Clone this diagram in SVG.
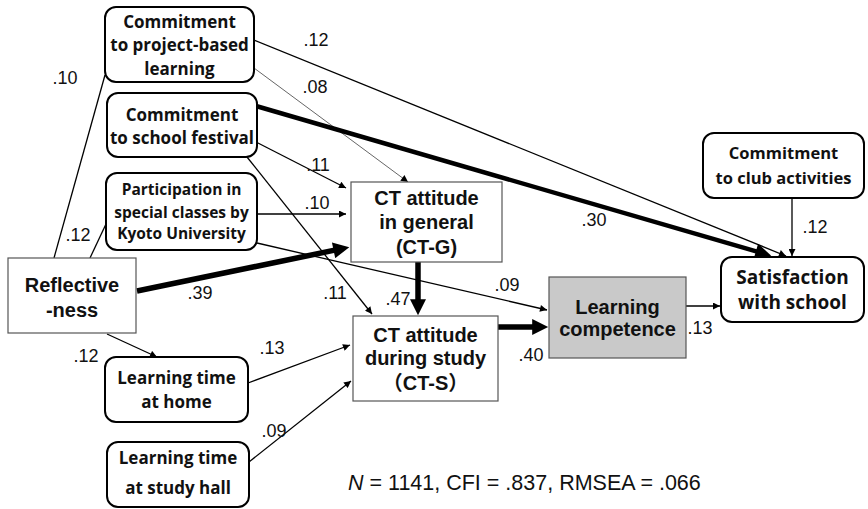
<svg xmlns="http://www.w3.org/2000/svg" width="868" height="509" viewBox="0 0 868 509">
<style>
.rbox{fill:#fff;stroke:#000;stroke-width:2}
.sbox{fill:#fff;stroke:#555;stroke-width:1.2}
.gbox{fill:#c9c9c9;stroke:#555;stroke-width:1.2}
.gt{font-family:"Open Sans","Noto Sans",sans-serif;font-weight:700;fill:#111;text-anchor:middle}
.at{font-family:"Liberation Sans","Noto Sans CJK JP",sans-serif;font-weight:700;fill:#111;text-anchor:middle}
.lbl{font-family:"Liberation Sans",Arial,sans-serif;font-size:18px;fill:#111;text-anchor:middle}
.thin{fill:none;stroke:#000;stroke-width:1.3}
.hair{fill:none;stroke:#555;stroke-width:0.9}
.thick{fill:none;stroke:#000;stroke-width:4.5}
.thick5{fill:none;stroke:#000;stroke-width:5.5}
</style>
<defs>
<marker id="sm" viewBox="0 0 10 10" refX="10" refY="5" markerWidth="9" markerHeight="7" markerUnits="userSpaceOnUse" orient="auto"><path d="M0,0 L10,5 L0,10 z" fill="#000"/></marker>
<marker id="lg" viewBox="0 0 10 10" refX="3" refY="5" markerWidth="17" markerHeight="16" markerUnits="userSpaceOnUse" orient="auto"><path d="M0,0 L10,5 L0,10 z" fill="#000"/></marker>
</defs>

<g id="connectors">
<line class="thin" x1="54" y1="258" x2="105" y2="75"/>
<line class="thin" x1="90" y1="258" x2="106" y2="224"/>
<line class="thin" x1="107" y1="334" x2="157" y2="357" marker-end="url(#sm)"/>
<line class="thick5" x1="137" y1="291" x2="338.3" y2="249.4" marker-end="url(#lg)"/>
<line class="thin" x1="254" y1="40" x2="786" y2="256" marker-end="url(#sm)"/>
<line class="hair" x1="254" y1="68" x2="408" y2="182" marker-end="url(#sm)"/>
<line class="thick" x1="256" y1="106" x2="760.5" y2="252.7" marker-end="url(#lg)"/>
<line class="thin" x1="256" y1="142" x2="346" y2="188" marker-end="url(#sm)"/>
<line class="thin" x1="247" y1="157" x2="372" y2="314" marker-end="url(#sm)"/>
<line class="thin" x1="257" y1="214" x2="346" y2="214" marker-end="url(#sm)"/>
<line class="thin" x1="257" y1="243" x2="547" y2="310" marker-end="url(#sm)"/>
<line class="thick5" x1="418" y1="262" x2="418" y2="304" marker-end="url(#lg)"/>
<line class="thick5" x1="498" y1="327" x2="537" y2="327" marker-end="url(#lg)"/>
<line class="thin" x1="686" y1="306" x2="720" y2="306" marker-end="url(#sm)"/>
<line class="thin" x1="792" y1="198" x2="792" y2="256" marker-end="url(#sm)"/>
<line class="thin" x1="248" y1="383" x2="350" y2="345" marker-end="url(#sm)"/>
<line class="thin" x1="249" y1="462" x2="351" y2="381" marker-end="url(#sm)"/>
</g>

<g id="labels">
<text class="lbl" x="65" y="84">.10</text>
<text class="lbl" x="78" y="241">.12</text>
<text class="lbl" x="316" y="46">.12</text>
<text class="lbl" x="315" y="93">.08</text>
<text class="lbl" x="318" y="171">.11</text>
<text class="lbl" x="317" y="209">.10</text>
<text class="lbl" x="594" y="226">.30</text>
<text class="lbl" x="200" y="299">.39</text>
<text class="lbl" x="335" y="299">.11</text>
<text class="lbl" x="398" y="305">.47</text>
<text class="lbl" x="507" y="291">.09</text>
<text class="lbl" x="531" y="361">.40</text>
<text class="lbl" x="700" y="334">.13</text>
<text class="lbl" x="815" y="233">.12</text>
<text class="lbl" x="86" y="362">.12</text>
<text class="lbl" x="272" y="354">.13</text>
<text class="lbl" x="274" y="437">.09</text>
</g>

<g id="n-project">
<rect class="rbox" x="105" y="7" width="149" height="75" rx="11"/>
<text class="gt" font-size="17" x="179.5" y="28">Commitment</text>
<text class="gt" font-size="17" x="179.5" y="51">to project-based</text>
<text class="gt" font-size="17" x="179.5" y="75">learning</text>
</g>
<g id="n-festival">
<rect class="rbox" x="107" y="93" width="150" height="64" rx="11"/>
<text class="gt" font-size="17" x="182" y="121">Commitment</text>
<text class="gt" font-size="17" x="182" y="144">to school festival</text>
</g>
<g id="n-kyoto">
<rect class="rbox" x="106" y="173" width="151" height="77" rx="11"/>
<text class="gt" font-size="15.5" x="181.5" y="195">Participation in</text>
<text class="gt" font-size="15.5" x="181.5" y="218">special classes by</text>
<text class="gt" font-size="15.5" x="181.5" y="239">Kyoto University</text>
</g>
<g id="n-reflect">
<rect class="sbox" x="8" y="258" width="128" height="75"/>
<text class="at" font-size="20" x="72" y="292">Reflective</text>
<text class="at" font-size="20" x="72" y="317">-ness</text>
</g>
<g id="n-home">
<rect class="rbox" x="105" y="357" width="143" height="65" rx="11"/>
<text class="gt" font-size="17" x="176.5" y="384">Learning time</text>
<text class="gt" font-size="17" x="176.5" y="408">at home</text>
</g>
<g id="n-hall">
<rect class="rbox" x="107" y="442" width="142" height="65" rx="11"/>
<text class="gt" font-size="17" x="178" y="464">Learning time</text>
<text class="gt" font-size="17" x="178" y="494">at study hall</text>
</g>
<g id="n-ctg">
<rect class="sbox" x="351" y="182" width="151" height="80"/>
<text class="at" font-size="20" x="426.5" y="205">CT attitude</text>
<text class="at" font-size="20" x="426.5" y="229">in general</text>
<text class="at" font-size="20" x="426.5" y="254">(CT-G)</text>
</g>
<g id="n-cts">
<rect class="sbox" x="353" y="316" width="145" height="85"/>
<text class="at" font-size="20" x="425.5" y="342">CT attitude</text>
<text class="at" font-size="20" x="425.5" y="365">during study</text>
<text class="at" font-size="20" x="425.5" y="390">（CT-S）</text>
</g>
<g id="n-lc">
<rect class="gbox" x="549" y="277" width="137" height="81"/>
<text class="at" font-size="20" x="617.5" y="314">Learning</text>
<text class="at" font-size="20" x="617.5" y="336">competence</text>
</g>
<g id="n-club">
<rect class="rbox" x="703" y="133" width="161" height="65" rx="11"/>
<text class="gt" font-size="16.5" x="783.5" y="159">Commitment</text>
<text class="gt" font-size="16.5" x="783.5" y="184">to club activities</text>
</g>
<g id="n-sat">
<rect class="rbox" x="721" y="257" width="143" height="65" rx="11"/>
<text class="gt" font-size="19" x="792.5" y="284">Satisfaction</text>
<text class="gt" font-size="19" x="792.5" y="309">with school</text>
</g>

<text x="348" y="490" font-family="Liberation Sans,Arial,sans-serif" font-size="21.5" fill="#111"><tspan font-style="italic">N</tspan> = 1141, CFI = .837, RMSEA = .066</text>
</svg>
